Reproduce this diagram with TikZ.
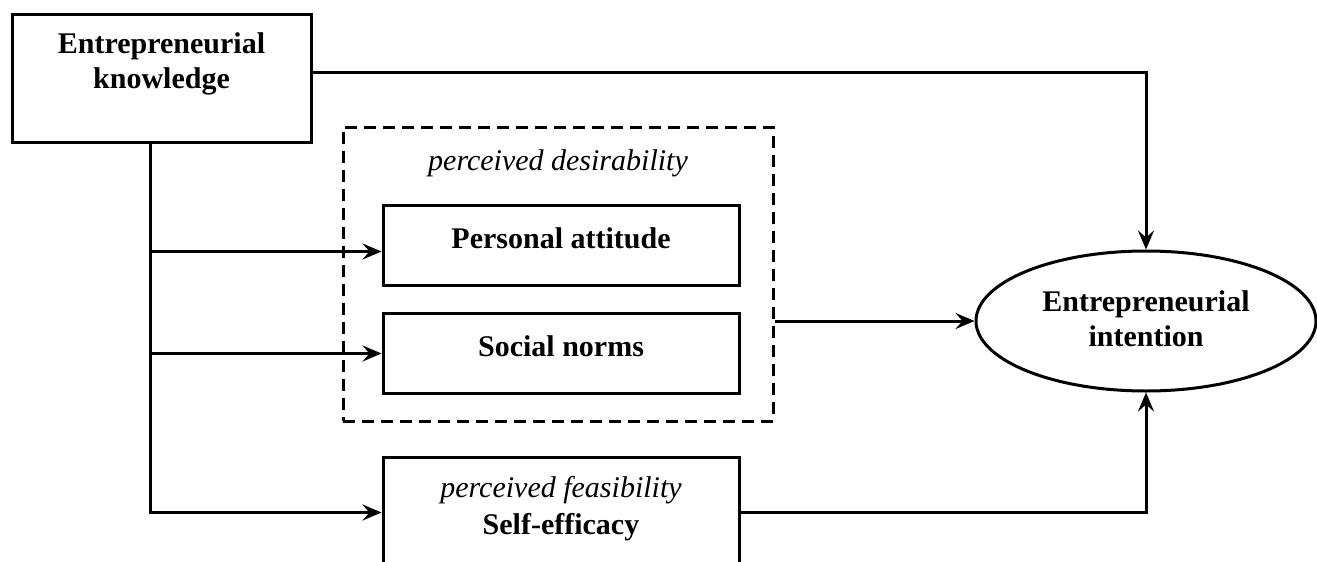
\documentclass[tikz,border=0pt]{standalone}
\usepackage{fontspec}
\setmainfont{Liberation Serif}
\usetikzlibrary{arrows.meta,shapes.geometric}
\begin{document}
\begin{tikzpicture}[x=1pt,y=-1pt,
  box/.style={draw,line width=3pt,rectangle,inner sep=0pt},
  lbl/.style={font=\fontsize{30}{35}\selectfont\bfseries,align=center,inner sep=0pt},
  ilbl/.style={font=\fontsize{30}{35}\selectfont\itshape,align=center,inner sep=0pt},
  conn/.style={line width=3pt},
  arr/.style={conn,-{Stealth[length=19pt,width=16pt,inset=7pt]}}]
\useasboundingbox (0,0) rectangle (1317,562);
\clip (0,0) rectangle (1317,562);
% boxes
\node[box,minimum width=299pt,minimum height=128pt] (ek) at (161.5,78) {};
\node[lbl] (ekt) at (161.5,64) {Entrepreneurial\\knowledge};
\node[draw,line width=3pt,dash pattern=on 12pt off 7pt,minimum width=430pt,minimum height=294pt,inner sep=0pt] (db) at (558,274) {};
\node[ilbl] (dbt) at (558,163) {perceived desirability};
\node[box,minimum width=356pt,minimum height=80pt] (pa) at (561,245.5) {};
\node[lbl] (pat) at (561,238) {Personal attitude};
\node[box,minimum width=356pt,minimum height=80pt] (sn) at (561,353.5) {};
\node[lbl] (snt) at (561,346) {Social norms};
\node[box,minimum width=356pt,minimum height=143pt] (se) at (561,528.5) {};
\node[ilbl] (set1) at (561,490) {perceived feasibility};
\node[lbl] (set2) at (561,527) {Self-efficacy};
\node[draw,ellipse,line width=3pt,minimum width=340pt,minimum height=140pt,inner sep=0pt] (ei) at (1146,321) {};
\node[lbl] (eit) at (1146,319) {Entrepreneurial\\intention};
% connectors
\coordinate (trunk) at ([xshift=-11.5pt]ek.south);
\draw[arr] ([yshift=6pt]ek.east) -| (ei.north);
\draw[arr] (trunk) |- ([yshift=16pt]se.west);
\draw[arr] (trunk |- pa.west) ++(0,6) -- ([yshift=-6pt]pa.west);
\draw[arr] (trunk |- sn.west) -- (sn.west);
\draw[arr] ([yshift=-47pt]db.east) -- (ei.west);
\draw[arr] ([yshift=16pt]se.east) -| (ei.south);
\end{tikzpicture}
\end{document}
